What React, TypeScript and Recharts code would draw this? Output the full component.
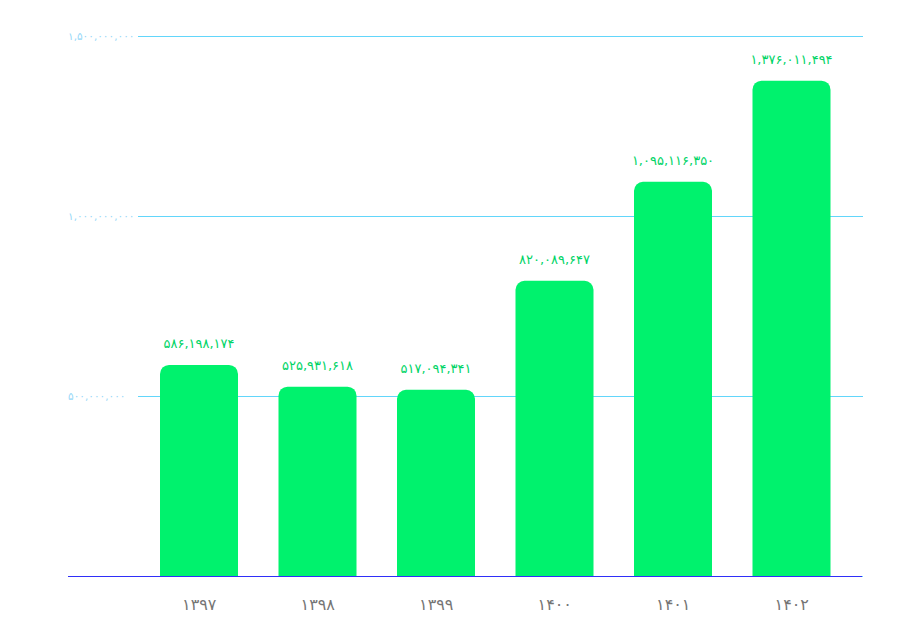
import React from 'react';
import { BarChart, Bar, XAxis, YAxis, CartesianGrid, LabelList } from 'recharts';

const years = ['1397', '1398', '1399', '1400', '1401', '1402'];
const amounts = [586198174, 525931618, 517094341, 820089647, 1095116350, 1376011494];
const yTicks = [0, 500000000, 1000000000, 1500000000];

const data = years.map((y, i) => ({ year: y, value: amounts[i] }));

const faDigits = ['۰', '۱', '۲', '۳', '۴', '۵', '۶', '۷', '۸', '۹'];
const toFa = (s: string) => s.replace(/[0-9]/g, (d) => faDigits[Number(d)]);
const fmt = (n: number) => toFa(n.toLocaleString('en-US'));

const FONT = '"DejaVu Sans", sans-serif';

const YTick = (props: any) => {
  const { x, y, payload } = props;
  const left = x - 62;
  return (
    <g>
      {payload.value === 0 ? (
        <line x1={left} x2={left + 794} y1={y} y2={y} stroke="#2f2ff8" strokeWidth={1} shapeRendering="crispEdges" />
      ) : (
        <text x={left} y={y} dy={4} textAnchor="start" fill="#98d8f8" fontSize={10.5} fontFamily={FONT}>
          {fmt(payload.value)}
        </text>
      )}
    </g>
  );
};

export default function App() {
  return (
    <div style={{ margin: -8, width: 911, height: 639, background: '#fff' }}>
      <BarChart
        width={911}
        height={639}
        data={data}
        margin={{ top: 36, right: 48, bottom: 0, left: 68 }}
        barSize={78}
      >
        <CartesianGrid horizontal vertical={false} stroke="#62d6fb" strokeWidth={1} shapeRendering="crispEdges" />
        <XAxis
          dataKey="year"
          height={63}
          axisLine={false}
          tickLine={false}
          padding={{ left: 2, right: 12 }}
          tickFormatter={(v: string) => toFa(v)}
          tick={{ fill: '#757575', fontSize: 16, fontFamily: FONT }}
          tickMargin={17}
        />
        <YAxis
          width={70}
          domain={[0, 1500000000]}
          ticks={yTicks}
          axisLine={false}
          tickLine={false}
          tick={<YTick />}
          interval={0}
        />
        <Bar dataKey="value" fill="#00f26d" radius={[9, 9, 0, 0]} isAnimationActive={false}>
          <LabelList
            dataKey="value"
            position="top"
            offset={17}
            formatter={(v: any) => fmt(Number(v))}
            fill="#00d466"
            fontSize={13}
            fontFamily={FONT}
          />
        </Bar>
      </BarChart>
    </div>
  );
}
